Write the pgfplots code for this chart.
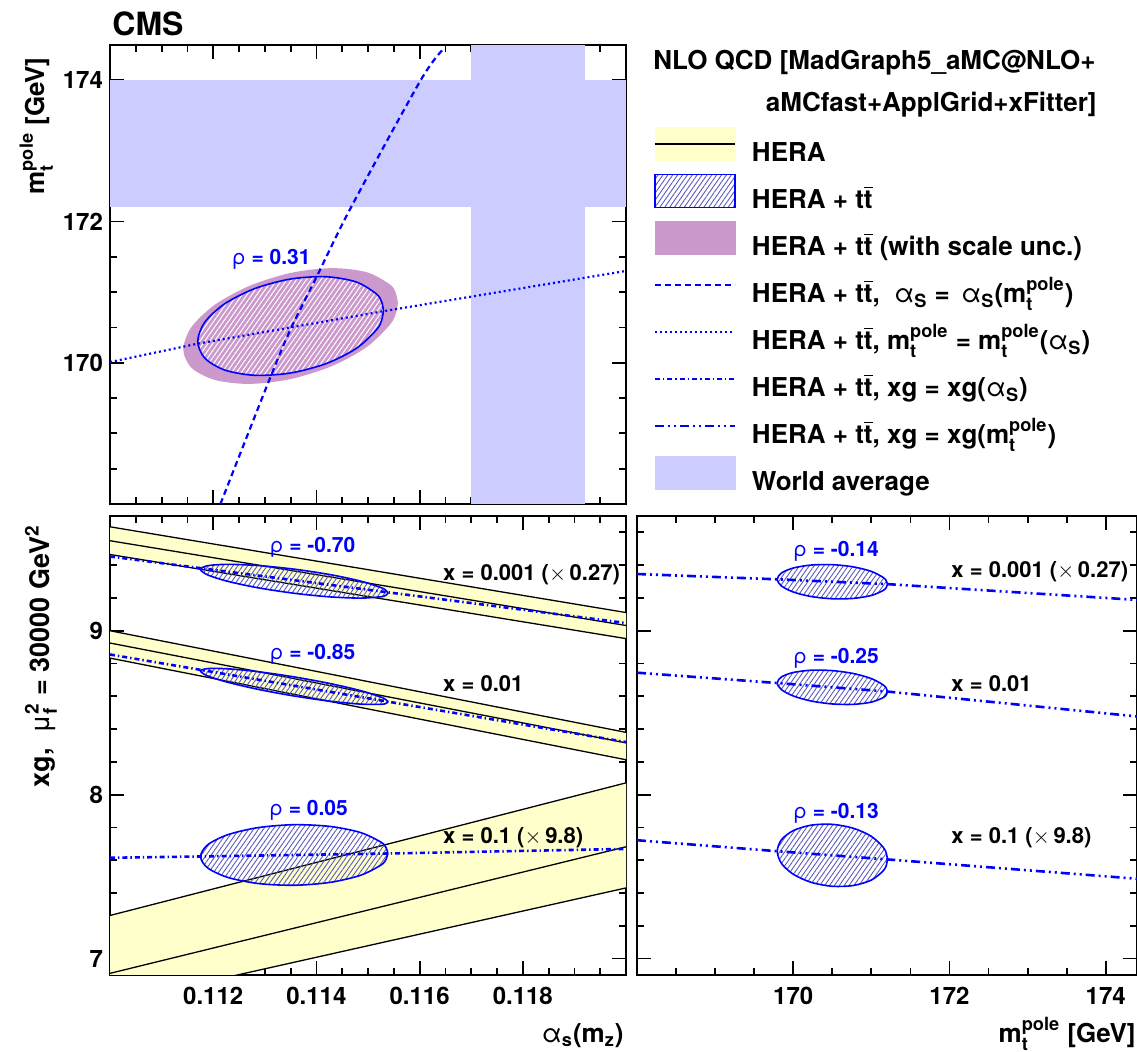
\documentclass[border=0pt]{standalone}
\usepackage{fontspec}
\setmainfont{TeX Gyre Heros}
\usepackage{amsmath}
\usepackage{pgfplots}
\pgfplotsset{compat=1.18}
\usetikzlibrary{patterns.meta}

\definecolor{yband}{RGB}{255,255,204}
\definecolor{scaleunc}{RGB}{204,153,204}
\definecolor{wavg}{RGB}{204,204,255}
\definecolor{hatchc}{RGB}{90,90,190}
\definecolor{rblue}{RGB}{0,0,255}

\newcommand{\fs}[1]{\fontsize{#1}{#1}\selectfont}
\newcommand{\ttb}{t$\overline{\text{t}}$}
\newcommand{\al}{\text{\mdseries α}}
\newcommand{\mpole}{\text{m}_{\text{t}}^{\text{pole}}}
\newcommand{\tms}{$\times$\,}
\newcommand{\lbb}{\path[draw=none,fill=none] (0pt,0pt) rectangle (40pt,5pt);}

\tikzset{
  dashA/.style={rblue, line width=1.1pt, dash pattern=on 3pt off 2pt},
  dotA/.style={rblue, line width=1.1pt, dash pattern=on 1pt off 1.5pt},
  dashdotA/.style={rblue, line width=1.3pt, dash pattern=on 2.5pt off 1.5pt on 0.7pt off 1.5pt},
  dashdotdotA/.style={rblue, line width=1.3pt, dash pattern=on 4.5pt off 2pt on 1pt off 2pt on 1pt off 2pt},
  hatchA/.style={pattern={Lines[angle=55,distance=2pt,line width=0.45pt]}, pattern color=hatchc},
  rholab/.style={text=rblue, font=\bfseries\fs{10.5}, text height=7.6pt, text depth=0pt, inner sep=0pt},
  xlab/.style={font=\bfseries\fs{11}, anchor=west, text height=7.9pt, text depth=0pt, inner sep=0pt},
}

\pgfplotsset{
  cmsaxis/.style={
    scale only axis, anchor=south west, height=229.5pt,
    axis line style={line width=1pt},
    tick align=inside,
    major tick length=7pt, minor tick length=3.5pt,
    every tick/.append style={black, line width=0.9pt},
    tick label style={font=\bfseries\fs{12}},
    xticklabel style={yshift=-2.5pt},
    /pgf/number format/assume math mode=true,
    scaled ticks=false,
  },
}

\begin{document}
\begin{tikzpicture}
\path[use as bounding box] (0,0) rectangle (568.5pt,526pt);

%================ TOP-LEFT: m_t vs alpha_s =================
\begin{axis}[cmsaxis, at={(55pt,274pt)}, width=258pt,
  xmin=0.110, xmax=0.120, ymin=168, ymax=174.5,
  xtick={0.112,0.114,0.116,0.118}, xticklabels={},
  minor xtick={0.1105,0.111,0.1115,0.1125,0.113,0.1135,0.1145,0.115,0.1155,0.1165,0.117,0.1175,0.1185,0.119,0.1195},
  ytick={170,172,174}, yticklabels={170,172,174},
  minor ytick={168.5,169,169.5,170.5,171,171.5,172.5,173,173.5},
  legend cell align=left,
  legend style={at={(1.0562,0.7961)}, anchor=north west, draw=none, fill=none,
    inner sep=0pt, outer sep=0pt, row sep=8pt, column sep=8.5pt,
    font=\bfseries\fs{13},
    nodes={inner sep=0pt, text height=11.5pt, text depth=4pt}},
]
% world average
\addplot[fill=wavg, draw=none, forget plot] coordinates {(0.110,172.2) (0.120,172.2) (0.120,174.0) (0.110,174.0)} --cycle;
\addplot[fill=wavg, draw=none, forget plot] coordinates {(0.1170,168) (0.1192,168) (0.1192,174.5) (0.1170,174.5)} --cycle;
% HERA + ttbar with scale uncertainty
\addplot[smooth, fill=scaleunc, draw=none, forget plot] coordinates {
(0.11558,170.848) (0.11554,170.988) (0.115422,171.111) (0.114971,171.283) (0.114296,171.340) (0.1135,171.272)
(0.112704,171.089) (0.112029,170.820) (0.111578,170.505) (0.11142,170.192) (0.111578,169.929)
(0.112029,169.757) (0.112704,169.700) (0.1135,169.769) (0.114296,169.951) (0.114971,170.220)
(0.115422,170.535) (0.11554,170.695) (0.11558,170.848)} --cycle;
% HERA + ttbar
\addplot[smooth, draw=rblue, line width=0.8pt, pattern={Lines[angle=55,distance=2pt,line width=0.5pt]}, pattern color=white, forget plot] coordinates {
(0.1153,170.737) (0.115265,170.863) (0.115163,170.975) (0.114773,171.144) (0.114189,171.218) (0.1135,171.186)
(0.112811,171.052) (0.112227,170.837) (0.111837,170.574) (0.1117,170.303) (0.111837,170.065)
(0.112227,169.896) (0.112811,169.822) (0.1135,169.855) (0.114189,169.988) (0.114773,170.203)
(0.115163,170.466) (0.115265,170.603) (0.1153,170.737)} --cycle;
% alpha_s = alpha_s(mt)
\addplot[dashA, smooth, forget plot] coordinates {(0.11214,168.0) (0.1131,169.78) (0.11351,170.49) (0.11402,171.24) (0.11467,172.2) (0.11602,174.0) (0.11647,174.45)};
% mt = mt(alpha_s)
\addplot[dotA, forget plot] coordinates {(0.110,170.01) (0.1117,170.27) (0.1153,170.73) (0.120,171.30)};
\node[rholab] at (axis cs:0.11313,171.50) {{\mdseries ρ} = 0.31};

% legend
\addlegendimage{legend image code/.code={\lbb \fill[yband, overlay] (0pt,-3.25pt) rectangle (40pt,13.25pt); \draw[black,line width=0.8pt,overlay] (0pt,5pt) -- (40pt,5pt);}}
\addlegendentry{HERA}
\addlegendimage{legend image code/.code={\lbb \draw[rblue,line width=0.8pt,hatchA,overlay] (0pt,-3.25pt) rectangle (40pt,13.25pt);}}
\addlegendentry{HERA + \ttb}
\addlegendimage{legend image code/.code={\lbb \fill[scaleunc,overlay] (0pt,-3.25pt) rectangle (40pt,13.25pt);}}
\addlegendentry{HERA + \ttb\ (with scale unc.)}
\addlegendimage{legend image code/.code={\lbb \draw[dashA,overlay] (0pt,5pt) -- (40pt,5pt);}}
\addlegendentry{HERA + \ttb,\ \ $\al_{\text{S}}$ = \,$\al_{\text{S}}$($\mpole$)}
\addlegendimage{legend image code/.code={\lbb \draw[dotA,overlay] (0pt,5pt) -- (40pt,5pt);}}
\addlegendentry{HERA + \ttb, $\mpole$ = $\mpole$($\al_{\text{S}}$)}
\addlegendimage{legend image code/.code={\lbb \draw[dashdotA,overlay] (0pt,5pt) -- (40pt,5pt);}}
\addlegendentry{HERA + \ttb, xg = xg($\al_{\text{S}}$)}
\addlegendimage{legend image code/.code={\lbb \draw[dashdotdotA,overlay] (0pt,5pt) -- (40pt,5pt);}}
\addlegendentry{HERA + \ttb, xg = xg($\mpole$)}
\addlegendimage{legend image code/.code={\lbb \fill[wavg,overlay] (0pt,-3.25pt) rectangle (40pt,13.25pt);}}
\addlegendentry{World average}
\end{axis}

%================ BOTTOM-LEFT: xg vs alpha_s =================
\begin{axis}[cmsaxis, at={(55pt,38.5pt)}, width=258pt,
  xmin=0.110, xmax=0.120, ymin=6.9, ymax=9.7,
  xtick={0.112,0.114,0.116,0.118}, xticklabels={0.112,0.114,0.116,0.118},
  minor xtick={0.1105,0.111,0.1115,0.1125,0.113,0.1135,0.1145,0.115,0.1155,0.1165,0.117,0.1175,0.1185,0.119,0.1195},
  ytick={7,8,9}, yticklabels={7,8,9},
  minor ytick={7.2,7.4,7.6,7.8,8.2,8.4,8.6,8.8,9.2,9.4,9.6},
]
% HERA bands
\addplot[fill=yband, draw=none] coordinates {(0.110,9.634) (0.120,9.111) (0.120,8.952) (0.110,9.465)} --cycle;
\addplot[fill=yband, draw=none] coordinates {(0.110,9.000) (0.120,8.380) (0.120,8.213) (0.110,8.833)} --cycle;
\addplot[fill=yband, draw=none] coordinates {(0.110,7.263) (0.120,8.072) (0.120,7.431) (0.110,6.726)} --cycle;
\addplot[black, line width=0.65pt] coordinates {(0.110,9.634) (0.120,9.111)};
\addplot[black, line width=0.65pt] coordinates {(0.110,9.549) (0.120,9.032)};
\addplot[black, line width=0.65pt] coordinates {(0.110,9.465) (0.120,8.952)};
\addplot[black, line width=0.65pt] coordinates {(0.110,9.000) (0.120,8.380)};
\addplot[black, line width=0.65pt] coordinates {(0.110,8.925) (0.120,8.316)};
\addplot[black, line width=0.65pt] coordinates {(0.110,8.833) (0.120,8.213)};
\addplot[black, line width=0.65pt] coordinates {(0.110,7.263) (0.120,8.072)};
\addplot[black, line width=0.65pt] coordinates {(0.110,6.910) (0.120,7.682)};
\addplot[black, line width=0.65pt] coordinates {(0.110,6.726) (0.120,7.431)};
% HERA + ttbar ellipses
\addplot[smooth, draw=rblue, line width=0.8pt, hatchA] coordinates {
(0.115385,9.2299) (0.11535,9.2457) (0.115247,9.2636) (0.114853,9.3031) (0.114265,9.3424) (0.11357,9.3756)
(0.112875,9.3976) (0.112287,9.4050) (0.111893,9.3968) (0.111755,9.3741) (0.111893,9.3404)
(0.112287,9.3009) (0.112875,9.2616) (0.11357,9.2284) (0.114265,9.2064) (0.114853,9.1990)
(0.115247,9.2072) (0.11535,9.2169) (0.115385,9.2299)} --cycle;
\addplot[smooth, draw=rblue, line width=0.8pt, hatchA] coordinates {
(0.115385,8.5660) (0.11535,8.5792) (0.115247,8.5955) (0.114853,8.6348) (0.114265,8.6779) (0.11357,8.7183)
(0.112875,8.7499) (0.112287,8.7677) (0.111893,8.7691) (0.111755,8.7540) (0.111893,8.7245)
(0.112287,8.6852) (0.112875,8.6421) (0.11357,8.6017) (0.114265,8.5701) (0.114853,8.5523)
(0.115247,8.5509) (0.11535,8.5564) (0.115385,8.5660)} --cycle;
\addplot[smooth, draw=rblue, line width=0.8pt, hatchA] coordinates {
(0.115385,7.6413) (0.11535,7.6771) (0.115247,7.7112) (0.114853,7.7692) (0.114265,7.8062) (0.11357,7.8168)
(0.112875,7.7992) (0.112287,7.7561) (0.111893,7.6942) (0.111755,7.6227) (0.111893,7.5528)
(0.112287,7.4948) (0.112875,7.4578) (0.11357,7.4472) (0.114265,7.4648) (0.114853,7.5079)
(0.115247,7.5698) (0.11535,7.6050) (0.115385,7.6413)} --cycle;
% xg = xg(alpha_s)
\addplot[dashdotA] coordinates {(0.110,9.453) (0.120,9.047)};
\addplot[dashdotA] coordinates {(0.110,8.855) (0.120,8.321)};
\addplot[dashdotA] coordinates {(0.110,7.615) (0.111755,7.623) (0.115385,7.641) (0.120,7.669)};
\node[rholab] at (axis cs:0.11393,9.523) {{\mdseries ρ} = -0.70};
\node[rholab] at (axis cs:0.11393,8.868) {{\mdseries ρ} = -0.85};
\node[rholab] at (axis cs:0.11385,7.921) {{\mdseries ρ} = 0.05};
\node[xlab] at (axis cs:0.11645,9.353) {x = 0.001 (\tms0.27)};
\node[xlab] at (axis cs:0.11645,8.679) {x = 0.01};
\node[xlab] at (axis cs:0.11645,7.750) {x = 0.1 (\tms9.8)};
\end{axis}

%================ BOTTOM-RIGHT: xg vs m_t =================
\begin{axis}[cmsaxis, at={(318.5pt,38.5pt)}, width=250pt,
  xmin=168, xmax=174.4, ymin=6.9, ymax=9.7,
  xtick={170,172,174}, xticklabels={170,172,174},
  minor xtick={168.5,169,169.5,170.5,171,171.5,172.5,173,173.5},
  ytick={7,8,9}, yticklabels={},
  minor ytick={7.2,7.4,7.6,7.8,8.2,8.4,8.6,8.8,9.2,9.4,9.6},
]
\addplot[smooth, draw=rblue, line width=0.8pt, hatchA] coordinates {
(171.205,9.2843) (171.1915,9.3049) (171.151,9.3252) (170.999,9.3621) (170.770,9.3895) (170.5,9.4030)
(170.230,9.4007) (170.002,9.3829) (169.849,9.3524) (169.795,9.3137) (169.849,9.2728)
(170.002,9.2359) (170.230,9.2085) (170.5,9.1950) (170.770,9.1973) (170.999,9.2151)
(171.151,9.2456) (171.1915,9.2643) (171.205,9.2843)} --cycle;
\addplot[smooth, draw=rblue, line width=0.8pt, hatchA] coordinates {
(171.205,8.6287) (171.1915,8.6490) (171.151,8.6696) (170.999,8.7083) (170.770,8.7389) (170.5,8.7567)
(170.230,8.7591) (170.002,8.7455) (169.849,8.7182) (169.795,8.6813) (169.849,8.6404)
(170.002,8.6017) (170.230,8.5711) (170.5,8.5533) (170.770,8.5509) (170.999,8.5645)
(171.151,8.5918) (171.1915,8.6094) (171.205,8.6287)} --cycle;
\addplot[smooth, draw=rblue, line width=0.8pt, hatchA] coordinates {
(171.205,7.6052) (171.1915,7.6425) (171.151,7.6794) (170.999,7.7460) (170.770,7.7950) (170.5,7.8189)
(170.230,7.8140) (170.002,7.7811) (169.849,7.7252) (169.795,7.6548) (169.849,7.5806)
(170.002,7.5140) (170.230,7.4650) (170.5,7.4411) (170.770,7.4460) (170.999,7.4789)
(171.151,7.5348) (171.1915,7.5688) (171.205,7.6052)} --cycle;
% xg = xg(mt)
\addplot[dashdotdotA] coordinates {(168.0,9.346) (169.795,9.3137) (171.205,9.2843) (174.4,9.188)};
\addplot[dashdotdotA] coordinates {(168.0,8.744) (169.795,8.681) (171.205,8.629) (174.4,8.477)};
\addplot[dashdotdotA] coordinates {(168.0,7.722) (169.795,7.655) (171.205,7.605) (174.4,7.487)};
\node[rholab] at (axis cs:170.55,9.502) {{\mdseries ρ} = -0.14};
\node[rholab] at (axis cs:170.55,8.846) {{\mdseries ρ} = -0.25};
\node[rholab] at (axis cs:170.55,7.900) {{\mdseries ρ} = -0.13};
\node[xlab] at (axis cs:172.02,9.370) {x = 0.001 (\tms0.27)};
\node[xlab] at (axis cs:172.02,8.679) {x = 0.01};
\node[xlab] at (axis cs:172.02,7.750) {x = 0.1 (\tms9.8)};
\end{axis}

%================ texts =================
\node[anchor=base west, font=\bfseries\fs{16}, inner sep=0pt] at (56pt,508pt) {CMS};
\node[anchor=base west, font=\bfseries\fs{13}, inner sep=0pt] at (326.5pt,491.4pt) {NLO QCD [MadGraph5\_aMC@NLO+};
\node[anchor=base east, font=\bfseries\fs{13}, inner sep=0pt] at (548.5pt,470.2pt) {aMCfast+ApplGrid+xFitter]};
\node[anchor=base east, rotate=90, font=\bfseries\fs{13}, inner sep=0pt] at (22.5pt,497.5pt) {$\mpole$ [GeV]};
\node[anchor=base east, rotate=90, font=\bfseries\fs{13.5}, inner sep=0pt] at (24.5pt,263.5pt) {xg,\ \ $\text{\mdseries μ}_{\text{f}}^{\text{2}}$ = 30000 GeV$^{\text{2}}$};
\node[anchor=base east, font=\bfseries\fs{13}, inner sep=0pt] at (312pt,4.5pt) {$\al_{\text{s}}$($\text{m}_{\text{z}}$)};
\node[anchor=base east, font=\bfseries\fs{13}, inner sep=0pt] at (568pt,4.5pt) {$\mpole$ [GeV]};
\end{tikzpicture}
\end{document}
